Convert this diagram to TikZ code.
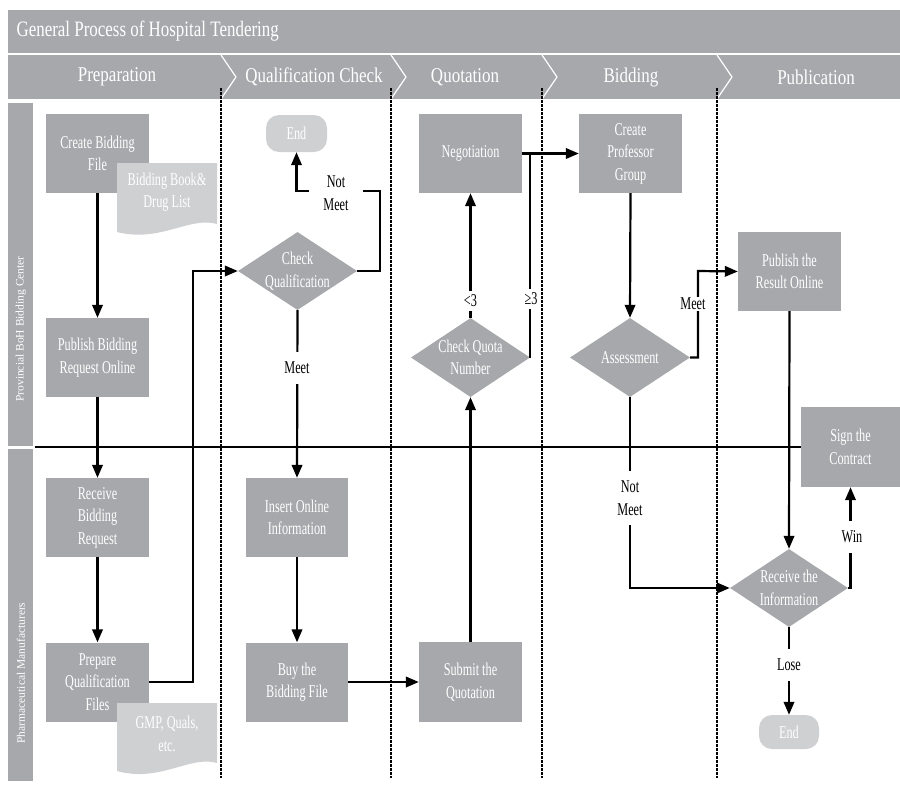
\documentclass[tikz,border=0pt]{standalone}
\usepackage{fontspec}
\setmainfont{Liberation Serif}
\newfontfamily\condfont[FakeStretch=0.68]{Liberation Serif}
\newfontfamily\headfont[FakeStretch=0.81]{Liberation Serif}
\newfontfamily\titlefont[FakeStretch=0.77]{Liberation Serif}
\usetikzlibrary{shapes.geometric,arrows.meta}
\definecolor{boxgray}{HTML}{A7A8AB}
\definecolor{docgray}{HTML}{CFD0D2}
\newcommand{\boxtxt}{\condfont\fontsize{18}{22.5}\selectfont}

\begin{document}
\begin{tikzpicture}[x=1pt,y=-1pt,
  proc/.style={rectangle, fill=boxgray, text=white, font=\boxtxt, align=center,
    minimum width=103pt, minimum height=79pt, inner sep=0pt},
  dec/.style={diamond, fill=boxgray, inner sep=0pt, minimum width=119pt, minimum height=78pt},
  dectext/.style={text=white, font=\boxtxt, align=center, inner sep=0pt},
  term/.style={rectangle, rounded corners=13pt, fill=docgray, text=white, font=\boxtxt,
    minimum width=61pt, minimum height=37pt, inner sep=0pt},
  doctext/.style={text=white, font=\boxtxt, align=center, inner sep=0pt},
  flow/.style={line width=2.2pt, -{Triangle[length=13pt,width=10.5pt]}},
  plain/.style={line width=2.2pt},
  lbl/.style={fill=white, text=black, font=\boxtxt, align=center, inner xsep=1.5pt},
  phase/.style={text=white, font=\headfont\fontsize{21}{24}\selectfont},
  lanetxt/.style={rotate=90, text=white, font=\fontsize{11.5}{13}\selectfont},
  swim/.style={dash pattern=on 2.5pt off 1.5pt, line width=1.7pt},
]
\useasboundingbox (0,0) rectangle (900,785);

% title and phase header
\fill[boxgray] (8,10) rectangle (900,53);
\node[anchor=west, text=white, font=\titlefont\fontsize{22}{26}\selectfont] (title) at (13,31)
  {General Process of Hospital Tendering};
\fill[boxgray] (8,55) rectangle (900,99);
\foreach \cx in {221,391,542,717}
  \draw[white, line width=1.2pt] (\cx,55) -- (\cx+15,77) -- (\cx,99);
\node[phase] (ph1) at (117,77) {Preparation};
\node[phase] (ph2) at (314,77) {Qualification Check};
\node[phase] (ph3) at (465,77) {Quotation};
\node[phase] (ph4) at (631,77) {Bidding};
\node[phase] (ph5) at (816,77) {Publication};

% lanes
\fill[boxgray] (8,103) rectangle (33,446);
\fill[boxgray] (8,449) rectangle (33,781);
\node[lanetxt] (lane1) at (21,329) {Provincial BoH Bidding Center};
\node[lanetxt] (lane2) at (21,673) {Pharmaceutical Manufacturers};
\foreach \cx in {221,391,542,717}
  \draw[swim] (\cx,88) -- (\cx,778);
\draw[line width=1.6pt] (35,447) -- (801,447);

% process steps
\node[proc] (cbf) at (97.5,153.5) {Create Bidding\\File};
\node[proc] (pbr) at (97.5,357.5) {Publish Bidding\\Request Online};
\node[proc] (rbr) at (97.5,517.5) {Receive\\Bidding\\Request};
\node[proc] (pqf) at (97.5,682) {Prepare\\Qualification\\Files};

% documents, lying over the steps that produce them
\fill[docgray] (117,163) -- (217,163) -- (217,224)
  .. controls (190,216) and (160,243) .. (117,232) -- cycle;
\node[doctext] (doc1) at (167,192) {Bidding Book\&\\Drug List};
\fill[docgray] (117,703) -- (217,703) -- (217,763)
  .. controls (190,755) and (160,783) .. (117,771) -- cycle;
\node[doctext] (doc2) at (167,734) {GMP, Quals,\\etc.};

\node[dec, label={[dectext]center:Check\\Qualification}] (cq) at (297.5,271) {};
\node[term] (endA) at (296.5,133.5) {End};
\node[proc, minimum width=102pt] (iol) at (297,517.5) {Insert Online\\Information};
\node[proc, minimum width=102pt] (btb) at (297,682) {Buy the\\Bidding File};

\node[proc] (neg) at (470.5,153.5) {Negotiation};
\node[dec, minimum height=79pt, label={[dectext]center:Check Quota\\Number}] (cqn) at (470.5,357.5) {};
\node[proc, minimum height=80pt] (sq) at (470.5,682) {Submit the\\Quotation};

\node[proc] (cpg) at (630.5,153.5) {Create\\Professor\\Group};
\node[dec, minimum width=120pt, minimum height=79pt, label={[dectext]center:Assessment}] (ass) at (630,357.5) {};

\node[proc] (pro) at (789.5,271.5) {Publish the\\Result Online};
\node[dec, minimum width=118pt, label={[dectext]center:Receive the\\Information}] (rti) at (789,588) {};
\node[proc, minimum width=99pt, minimum height=80pt] (stc) at (850.5,447) {Sign the\\Contract};
\node[term, minimum width=60pt, minimum height=34pt] (endB) at (789,732) {End};

% connectors
\coordinate (jPrep) at (193,271);
\coordinate (jNot) at (380,191);
\coordinate (jMeet) at (698,271);
\draw[flow] (cbf.south) -- (pbr.north);
\draw[flow] (pbr.south) -- (rbr.north);
\draw[flow] (rbr.south) -- (pqf.north);
\draw[flow] (pqf.east) -| (jPrep) -- (cq.west);
\draw[flow] (cq.east) -| (jNot) -| (endA.south);
\draw[flow] (cq.south) -- (iol.north);
\draw[flow] (iol.south) -- (btb.north);
\draw[flow] (btb.east) -- (sq.west);
\draw[flow] (sq.north) -- (cqn.south);
\draw[flow] (cqn.north) -- (neg.south);
\draw[flow] (neg.east) -- (cpg.west);
\draw[plain] (cqn.east) -- (cqn.east |- neg.east);
\draw[flow] (cpg.south) -- (ass.north);
\draw[flow] (ass.east) -| (jMeet) -- (pro.west);
\draw[flow] (pro.south) -- (rti.north);
\draw[flow] (ass.south) |- (rti.west);
\draw[flow] (rti.east) -| (stc.south);
\draw[flow] (rti.south) -- (endB.north);

% branch labels
\node[lbl, inner xsep=14pt, inner ysep=1pt] (lNotA) at (336,193) {Not\\Meet};
\node[lbl, inner ysep=10pt] (lMeetA) at (297,368) {Meet};
\node[lbl, inner ysep=4pt] (lLess) at (470.5,301) {<3};
\node[lbl, inner ysep=4pt] (lGe) at (531,299) {≥3};
\node[lbl, inner ysep=1.5pt] (lMeetB) at (693,304) {Meet};
\node[lbl, inner ysep=10pt] (lNotB) at (630,498) {Not\\Meet};
\node[lbl, inner ysep=10pt] (lWin) at (852,537) {Win};
\node[lbl, inner ysep=10pt] (lLose) at (789,665) {Lose};
\end{tikzpicture}
\end{document}
